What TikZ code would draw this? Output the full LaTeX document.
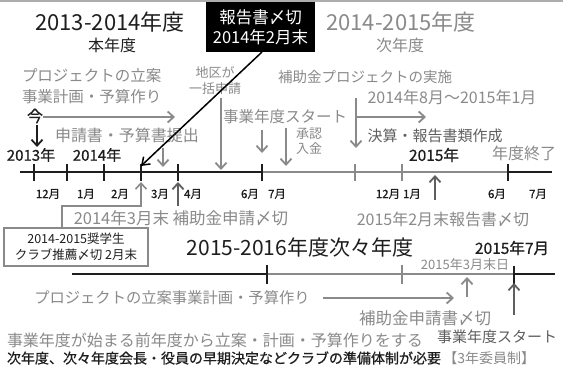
\documentclass[tikz,border=0pt]{standalone}
\usepackage{fontspec}
\setmainfont{Noto Sans CJK JP}
\newfontfamily\semib[FakeBold=0.7]{Noto Sans CJK JP}
\usetikzlibrary{arrows.meta}
\definecolor{lg}{RGB}{138,138,138}
\definecolor{mg}{RGB}{95,95,95}
\definecolor{dk}{RGB}{30,30,30}
\newcommand\myfs[1]{\fontsize{#1}{#1}\selectfont}
\begin{document}
\begin{tikzpicture}[x=1pt,y=-1pt,
  txt/.style={inner sep=0pt,outer sep=0pt},
  gt/.style={txt,text=lg},
  mt/.style={txt,text=mg},
  dt/.style={txt,text=dk},
  ml/.style={txt,text=dk,font=\myfs{11.5}\semib},
  barb/.style={-{Straight Barb[length=6pt,width=11pt]}},
  garr/.style={draw=lg,line width=1.8pt,barb},
  marr/.style={draw=mg,line width=1.8pt,barb},
  karr/.style={draw=dk,line width=1.8pt,barb},
  dline/.style={draw=dk,line width=2pt},
  gline/.style={draw=lg,line width=2pt},
  dtick/.style={draw=dk,line width=1.6pt},
  gtick/.style={draw=lg,line width=1.6pt}]
\useasboundingbox (0,0) rectangle (563,371);
\fill[white] (0,0) rectangle (563,371);
\draw[lg!70,line width=2pt] (0,1) -- (563,1);

% titles
\node[dt,font=\myfs{22}] (t1) at (110,22) {2013-2014年度};
\node[dt,font=\myfs{16}] (t1s) at (112,45) {本年度};
\node[gt,font=\myfs{22}] (t2) at (401,22) {2014-2015年度};
\node[gt,font=\myfs{16}] (t2s) at (400,45) {次年度};
\node[fill=black,text=white,minimum width=109pt,minimum height=50pt,inner sep=0pt,align=center,
      font=\myfs{16.5}\linespread{1.25}\selectfont] (box1) at (260.5,27) {報告書〆切\\[-1pt]2014年2月末};

% upper-left texts
\node[gt,font=\myfs{15.5},anchor=west] (p1) at (22,76) {プロジェクトの立案};
\node[gt,font=\myfs{15.5},anchor=west] (p2) at (22,97) {事業計画・予算作り};
\node[dt,font=\myfs{16}\semib] (ima) at (35,116) {今};
\coordinate (ga1) at (43,117);
\coordinate (ga2) at (175,117);
\draw[garr] (ga1) -- (ga2);
\coordinate (ka1) at (37,125);
\coordinate (ka2) at (37,147);
\draw[karr] (ka1) -- (ka2);

\node[gt,font=\myfs{13},align=center,text width=60pt] (chiku) at (215,81) {地区が\\[3pt]一括申請};
\coordinate (ca1) at (221,98);
\coordinate (ca2) at (221,170);
\draw[garr] (ca1) -- (ca2);

\node[gt,font=\myfs{14.5},anchor=west] (hojo) at (278,77) {補助金プロジェクトの実施};
\node[gt,font=\myfs{16}] (kikan) at (452,97) {2014年8月～2015年1月};
\coordinate (la1) at (356,98);
\coordinate (la2) at (356,148);
\coordinate (la3) at (356,117);
\coordinate (la4) at (426,117);
\draw[garr] (la1) -- (la2);
\draw[garr] (la3) -- (la4);

\node[gt,font=\myfs{15.5}] (start1) at (285,117) {事業年度スタート};
\coordinate (sa1) at (262,130);
\coordinate (sa2) at (262,153);
\draw[garr] (sa1) -- (sa2);
\coordinate (sb1) at (286,128);
\coordinate (sb2) at (286,166);
\draw[garr] (sb1) -- (sb2);
\node[gt,font=\myfs{13},align=center] (shonin) at (309,141) {承認\\[2pt]入金};

\node[mt,font=\myfs{15}] (kessan) at (435,136) {決算・報告書類作成};
\node[dt,font=\myfs{15.5}\semib] (y2015) at (434,155) {2015年};
\node[gt,font=\myfs{16}] (shuryo) at (524,153) {年度終了};

\node[gt,font=\myfs{16}] (shinsei) at (127,135) {申請書・予算書提出};
\coordinate (da1) at (163,148);
\coordinate (da2) at (163,167);
\draw[garr] (da1) -- (da2);

\node[dt,font=\myfs{15}\semib] (y2013) at (31,155) {2013年};
\node[dt,font=\myfs{15}\semib] (y2014) at (97,155) {2014年};

% main timeline
\coordinate (a0) at (20,172);
\coordinate (a1) at (262,172);
\coordinate (a2) at (508,172);
\coordinate (a3) at (552,172);
\draw[gline] (a1) -- (a2);
\draw[dline] (a0) -- (a1);
\draw[dline] (a2) -- (a3);
\foreach \x in {34,67,104,141,178,262,508} \draw[dtick] (\x,164) -- (\x,181);
\foreach \x in {355,402} \draw[gtick] (\x,164) -- (\x,181);
\foreach \x/\t [count=\i] in {48/12月,86/1月,120/2月,160/3月,193/4月,250/6月,277/7月,388/12月,412/1月,497/6月,538/7月}
  \node[ml] (m\i) at (\x,194) {\t};

% diagonal black arrow
\coordinate (bx) at (262,52);
\coordinate (bt) at (141,166);
\draw[draw=black,line width=1.5pt,-{Straight Barb[length=7pt,width=10pt]}] (bx) -- (bt);

% lower connectors of first timeline
\coordinate (pa1) at (62,228);
\coordinate (pa2) at (141,182);
\draw[draw=lg,line width=1.6pt,barb] (pa1) |- (141,206) -- (pa2);
\coordinate (qa1) at (178,206);
\coordinate (qa2) at (178,182);
\draw[marr] (qa1) -- (qa2);
\node[gt,font=\myfs{16.5}] (mar) at (181,218) {2014年3月末 補助金申請〆切};
\node[gt,font=\myfs{16}] (feb) at (443,219) {2015年2月末報告書〆切};
\coordinate (ra1) at (435,200);
\coordinate (ra2) at (435,175);
\draw[marr] (ra1) -- (ra2);

\node[draw=lg,line width=1.5pt,fill=white,minimum width=144pt,minimum height=38pt,inner sep=0pt,
      align=center,text=dk,font=\myfs{12.5}\linespread{1.3}\selectfont] (shogaku) at (76,247)
      {2014-2015奨学生\\クラブ推薦〆切 2月末};

% second timeline
\node[dt,font=\myfs{21}] (t3) at (300,248) {2015-2016年度次々年度};
\node[dt,font=\myfs{15.5}\semib] (jul) at (512,248) {2015年7月};
\node[gt,font=\myfs{13}] (mar31) at (465,265) {2015年3月末日};
\coordinate (b0) at (72,274);
\coordinate (b1) at (267,274);
\coordinate (b2) at (514,274);
\coordinate (b3) at (555,274);
\draw[gline] (b1) -- (b2);
\draw[dline] (b0) -- (b1);
\draw[dline] (b2) -- (b3);
\draw[dtick] (267,265) -- (267,284);
\draw[gtick] (402,265) -- (402,284);
\draw[dtick] (514,266) -- (514,284);
\coordinate (ua1) at (467,297);
\coordinate (ua2) at (467,277);
\draw[garr] (ua1) -- (ua2);
\coordinate (va1) at (514,315);
\coordinate (va2) at (514,283);
\draw[marr] (va1) -- (va2);

\node[gt,font=\myfs{15.3}] (plan2) at (172,298) {プロジェクトの立案事業計画・予算作り};
\coordinate (wa1) at (323,298);
\coordinate (wa2) at (454,298);
\draw[garr] (wa1) -- (wa2);
\node[gt,font=\myfs{16.5}] (hojo2) at (425,318) {補助金申請書〆切};
\node[mt,font=\myfs{15}] (start2) at (497,337) {事業年度スタート};

\node[gt,font=\myfs{16},anchor=west] (note1) at (7,340) {事業年度が始まる前年度から立案・計画・予算作りをする};
\node[dt,font=\myfs{14}\semib,anchor=west] (note2) at (7,358) {次年度、次々年度会長・役員の早期決定などクラブの準備体制が必要\,{\normalfont\color{lg}【3年委員制】}};
\end{tikzpicture}
\end{document}
